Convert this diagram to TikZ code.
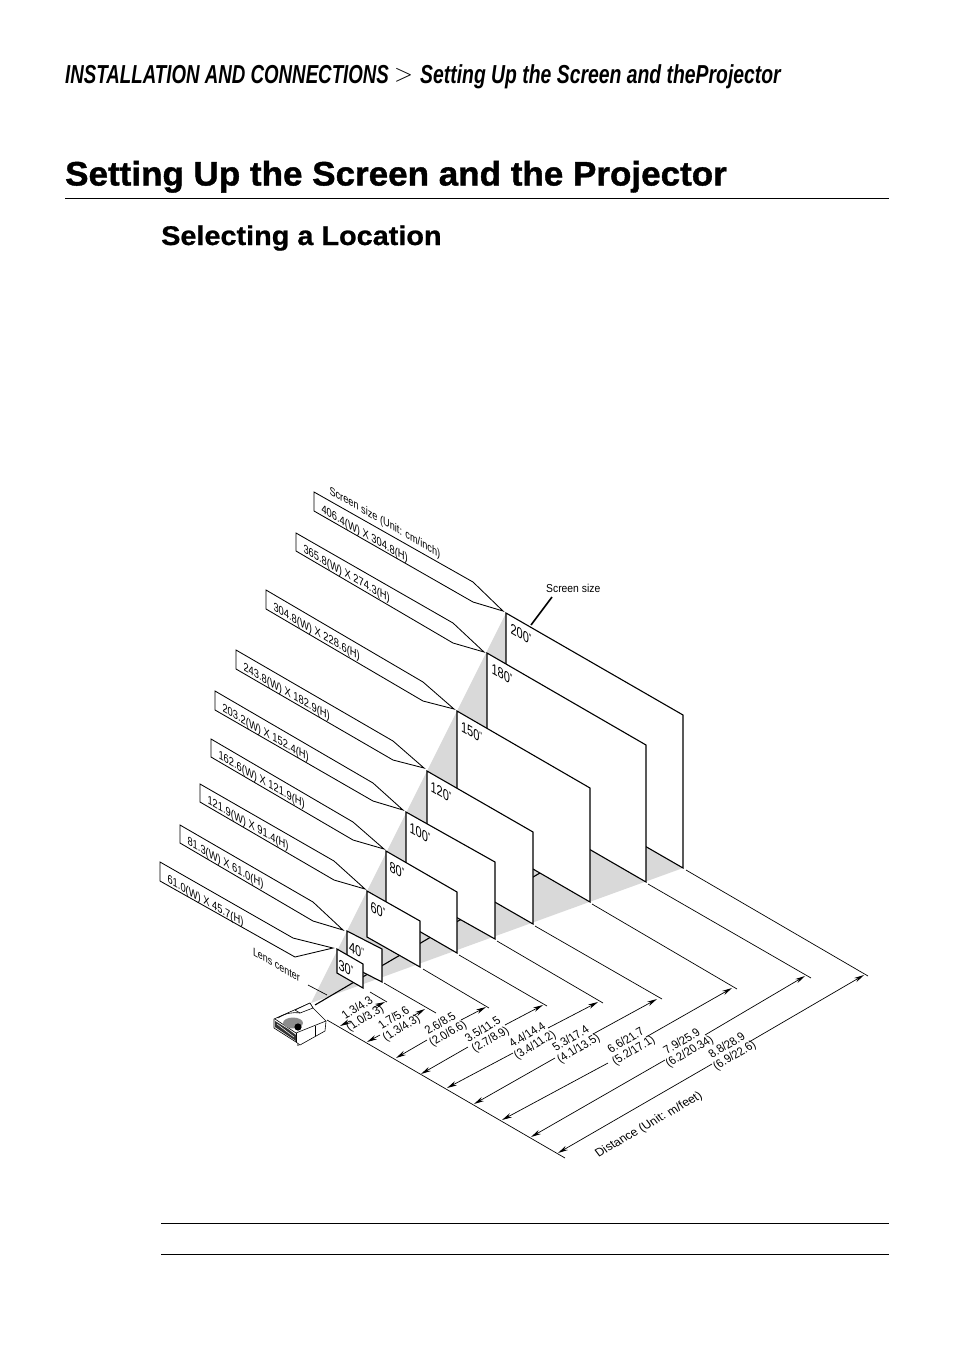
\documentclass[tikz,border=0pt]{standalone}
\usepackage{fontspec}
\setmainfont{Liberation Sans}
\usetikzlibrary{arrows.meta}
\newfontfamily\headf[FakeStretch=0.72,BoldFeatures={FakeBold=0.8}]{Liberation Sans}
\newfontfamily\headg[FakeStretch=0.745,BoldFeatures={FakeBold=0.8}]{Liberation Sans}
\newfontfamily\titlef[FakeStretch=1.03,BoldFeatures={FakeBold=1.2}]{Liberation Sans}
\newfontfamily\subf[FakeStretch=1.068,BoldFeatures={FakeBold=0.8}]{Liberation Sans}
\newfontfamily\narrowf[FakeStretch=0.85]{Liberation Sans}
\newfontfamily\lblf[FakeStretch=0.9]{Liberation Sans}
\newcommand{\fsz}[1]{\fontsize{#1}{#1}\selectfont}
\newcommand{\inchmark}{\raisebox{3.5pt}{\fsz{10}"}}
\tikzset{
  x=1pt,y=-1pt,
  wall/.style={cm={.866,-.5,0,1,(0,0)}},
  floor/.style={cm={.866,.5,-.6,.8,(0,0)}},
  screenbox/.style={draw=black,fill=white,line width=1.1pt,line join=miter},
  callout/.style={draw=black,line width=.85pt,line join=miter},
  extline/.style={draw=black,line width=.7pt},
  dimarrow/.style={draw=black,line width=.7pt,-{Stealth[length=10pt,width=4.6pt]}},
  rulel/.style={draw=black,line width=.8pt},
  txt/.style={transform shape,inner sep=0pt,outer sep=0pt,align=center},
}
\newcommand{\lab}[6]{\begin{scope}[shift={(#2,#3)},#4]\node[txt,#5] (#1) at (0,0) {#6};\end{scope}}
\newcommand{\scrn}[7]{%
  \coordinate (s#1tl) at (#2,#3);
  \coordinate (s#1tr) at (#4,#5);
  \coordinate (s#1br) at (#4,#5+#6);
  \coordinate (s#1bl) at (#2,#3+#6);
  \path[screenbox] (s#1tl)--(s#1tr)--(s#1br)--(s#1bl)--cycle;
  \lab{t#1}{#2+#7}{#3+20}{wall}{anchor=base west}{\narrowf\fsz{15}#1\inchmark}%
}
\newcommand{\lead}[8]{%
  \coordinate (c#1a) at (#2,#3);
  \coordinate (c#1b) at (#2,#4);
  \coordinate (c#1c) at (#5,#7);
  \coordinate (c#1d) at (#5,#6);
  \draw[callout] (c#1a)--(c#1d)--(s#1tip)--(c#1c)--(c#1b)--cycle;
  \lab{l#1}{#2+7.5}{#4+1.7}{wall}{anchor=base west}{\lblf\fsz{12}#8}%
}
\newcommand{\dimarr}[9]{%
  \coordinate (d#1tip) at (#2,#3);
  \coordinate (d#1a) at (#4,#5);
  \coordinate (d#1b) at (#6,#7);
  \coordinate (d#1far) at (#8,#9);
  \draw[dimarrow] (d#1a)--(d#1tip);
  \draw[dimarrow] (d#1b)--(d#1far);
}
\newcommand{\dlab}[5]{\lab{dl#1}{#2}{#3}{floor}{anchor=center,font={\lblf\fsz{12}}}{#4\\[0.5pt]#5}}
\begin{document}
\begin{tikzpicture}
\useasboundingbox (0,0) rectangle (954,1352);
\fill[white] (0,0) rectangle (954,1352);
% headings
\node[inner sep=0pt,anchor=base west] (head1) at (65,83) {\headf\fsz{26}\bfseries\itshape INSTALLATION AND CONNECTIONS};
\node[inner sep=0pt,anchor=base west] (head2) at (394,81.5) {\fsz{23}$>$};
\node[inner sep=0pt,anchor=base west] (head3) at (420,83) {\headg\fsz{26}\bfseries\itshape Setting Up the Screen and theProjector};
\node[inner sep=0pt,anchor=base west] (title) at (65,185.5) {\titlef\fsz{34}\bfseries Setting Up the Screen and the Projector};
\coordinate (ruleA) at (65,198.5); \coordinate (ruleB) at (889,198.5);
\draw[rulel] (ruleA)--(ruleB);
\node[inner sep=0pt,anchor=base west] (sub) at (161,245) {\subf\fsz{27}\bfseries Selecting a Location};
\coordinate (ruleC) at (161,1223.5); \coordinate (ruleD) at (889,1223.5);
\coordinate (ruleE) at (161,1254.5); \coordinate (ruleF) at (889,1254.5);
\draw[rulel] (ruleC)--(ruleD);
\draw[rulel] (ruleE)--(ruleF);

% beam
\coordinate (lens) at (311,1003);
\coordinate (s200tip) at (503,611);
\coordinate (s180tip) at (484,652);
\coordinate (s150tip) at (454,709);
\coordinate (s120tip) at (424,768);
\coordinate (s100tip) at (403,810);
\coordinate (s80tip) at (384,849);
\coordinate (s60tip) at (365,889);
\coordinate (s40tip) at (343,930);
\coordinate (s30tip) at (333,948);
\fill[black!15] (lens)--(506,613)--(683,868)--cycle;
% floor axis
\coordinate (axisA) at (315,1005);
\coordinate (axisB) at (620,826);
\draw[black,line width=1.1pt] (axisA)--(axisB);
% screens back to front
\scrn{200}{506}{613}{683}{715}{153}{4.5}
\scrn{180}{487}{653}{646}{745}{137}{4.5}
\scrn{150}{457}{711}{590}{788}{114}{4}
\scrn{120}{427}{771}{533}{832}{92}{3.5}
\scrn{100}{406}{812}{495}{862}{77}{3.5}
\scrn{80}{386}{851}{457}{892}{61}{3.5}
\scrn{60}{367}{891}{420}{921}{46}{3.5}
\scrn{40}{347}{931}{382}{949}{33}{2}
\scrn{30}{337}{949}{363}{964}{24}{1.5}

% leaders
\lead{200}{314}{492}{511}{473}{582}{602}{406.4(W) X 304.8(H)}
\lead{180}{296}{533}{551}{453}{623}{643}{365.8(W) X 274.3(H)}
\lead{150}{266}{590}{609}{423}{682}{701}{304.8(W) X 228.6(H)}
\lead{120}{236}{650}{669}{393}{741}{760}{243.8(W) X 182.9(H)}
\lead{100}{215}{691}{710}{373}{783}{801}{203.2(W) X 152.4(H)}
\lead{80}{211}{739}{757}{353}{822}{840}{162.6(W) X 121.9(H)}
\lead{60}{200}{784}{802}{334}{861}{880}{121.9(W) X 91.4(H)}
\lead{40}{180}{825}{843}{313}{902}{921}{81.3(W) X 61.0(H)}
\coordinate (c30a) at (160,862); \coordinate (c30b) at (160,881);
\coordinate (c30c) at (295,957); \coordinate (c30d) at (293,938);
\draw[callout] (c30a)--(c30d)--(s30tip)--(c30c)--(c30b)--cycle;
\lab{l30}{167.5}{882.7}{wall}{anchor=base west}{\lblf\fsz{12}61.0(W) X 45.7(H)}

\lab{unitlab}{329.5}{494}{wall}{anchor=base west}{\lblf\fsz{11.8}Screen size (Unit: cm/inch)}
\node[inner sep=0pt,anchor=base west] (sslab) at (546,592) {\lblf\fsz{11.5}Screen size};
\coordinate (ssend) at (531,625);
\coordinate (ssstart) at (552,597);
\draw[black,line width=1.6pt] (ssstart)--(ssend);

\lab{lenslab}{253}{955}{wall}{anchor=base west}{\lblf\fsz{11.5}Lens center}
\coordinate (lcA) at (308,985); \coordinate (lcB) at (327,995);
\draw[extline] (lcA)--(lcB);

% base line and extension lines
\coordinate (baseA) at (327,1020); \coordinate (baseB) at (565,1158);
\draw[extline] (baseA)--(baseB);
\coordinate (e30a) at (370,992);  \coordinate (e30b) at (387,1002);
\coordinate (e40a) at (384,983);  \coordinate (e40b) at (436,1013);
\coordinate (e60a) at (423,969);  \coordinate (e60b) at (489,1008);
\coordinate (e80a) at (459,955);  \coordinate (e80b) at (547,1006);
\coordinate (e100a) at (497,941); \coordinate (e100b) at (603,1003);
\coordinate (e120a) at (535,926); \coordinate (e120b) at (662,999);
\coordinate (e150a) at (592,904); \coordinate (e150b) at (737,989);
\coordinate (e180a) at (648,884); \coordinate (e180b) at (811,978);
\coordinate (e200a) at (686,870); \coordinate (e200b) at (868,976);
\foreach \s in {30,40,60,80,100,120,150,180,200}{\draw[extline] (e\s a)--(e\s b);}

% dimension arrows
\dimarr{30}{340}{1026}{350}{1021}{374}{1007}{385}{1002}
\dimarr{40}{367}{1042}{380}{1035}{413}{1016}{425}{1009}
\dimarr{60}{396}{1058}{427}{1040}{461}{1020}{486}{1007}
\dimarr{80}{421}{1074}{468}{1047}{505}{1025}{543}{1005}
\dimarr{100}{447}{1088}{513}{1053}{548}{1028}{598}{1002}
\dimarr{120}{474}{1104}{555}{1058}{593}{1034}{657}{999}
\dimarr{150}{502}{1120}{608}{1063}{646}{1037}{732}{988}
\dimarr{180}{531}{1137}{665}{1060}{705}{1035}{805}{976}
\dimarr{200}{558}{1153}{712}{1064}{749}{1042}{864}{975}
% dimension labels
\dlab{30}{361.5}{1013.5}{1.3/4.3}{(1.0/3.3)}
\dlab{40}{398}{1023.5}{1.7/5.6}{(1.3/4.3)}
\dlab{60}{444.5}{1029}{2.6/8.5}{(2.0/6.6)}
\dlab{80}{487}{1035}{3.5/11.5}{(2.7/8.9)}
\dlab{100}{531.5}{1040.5}{4.4/14.4}{(3.4/11.2)}
\dlab{120}{575}{1044}{5.3/17.4}{(4.1/13.5)}
\dlab{150}{630}{1046}{6.6/21.7}{(5.2/17.1)}
\dlab{180}{686}{1047}{7.9/25.9}{(6.2/20.34)}
\dlab{200}{731}{1051}{8.8/28.9}{(6.9/22.6)}
\lab{distlab}{649}{1125}{floor}{anchor=center}{\fsz{12}Distance (Unit: m/feet)}

% projector
\begin{scope}[line join=round,line width=.6pt]
\path[fill=white,draw=black] (274,1019)--(310,1003)--(313,1008)--(326,1021)--(325,1031)--(300,1045)--(296,1042)--(274,1028)--cycle;
\draw (275,1019)--(296,1033)--(326,1021);
\draw (296,1033)--(296,1042);
\draw (315,1026)--(315,1036);
\path[fill=white,draw=black] (295,1010)--(310,1003)--(313,1008)--(300,1013)--cycle;
\draw (278,1018) .. controls (286,1013) and (292,1012) .. (300,1013);
\fill[black!45] (293,1023) ellipse [x radius=10,y radius=5.5];
\fill[black] (298,1027) circle (3.6);
\fill[black!80] (275,1021)--(288,1029)--(296,1035)--(296,1041)--(275,1027)--cycle;
\draw[white,line width=.5pt] (277,1024)--(294,1037);
\fill[black!60] (298,1045) circle (1.1);
\end{scope}
\end{tikzpicture}
\end{document}
